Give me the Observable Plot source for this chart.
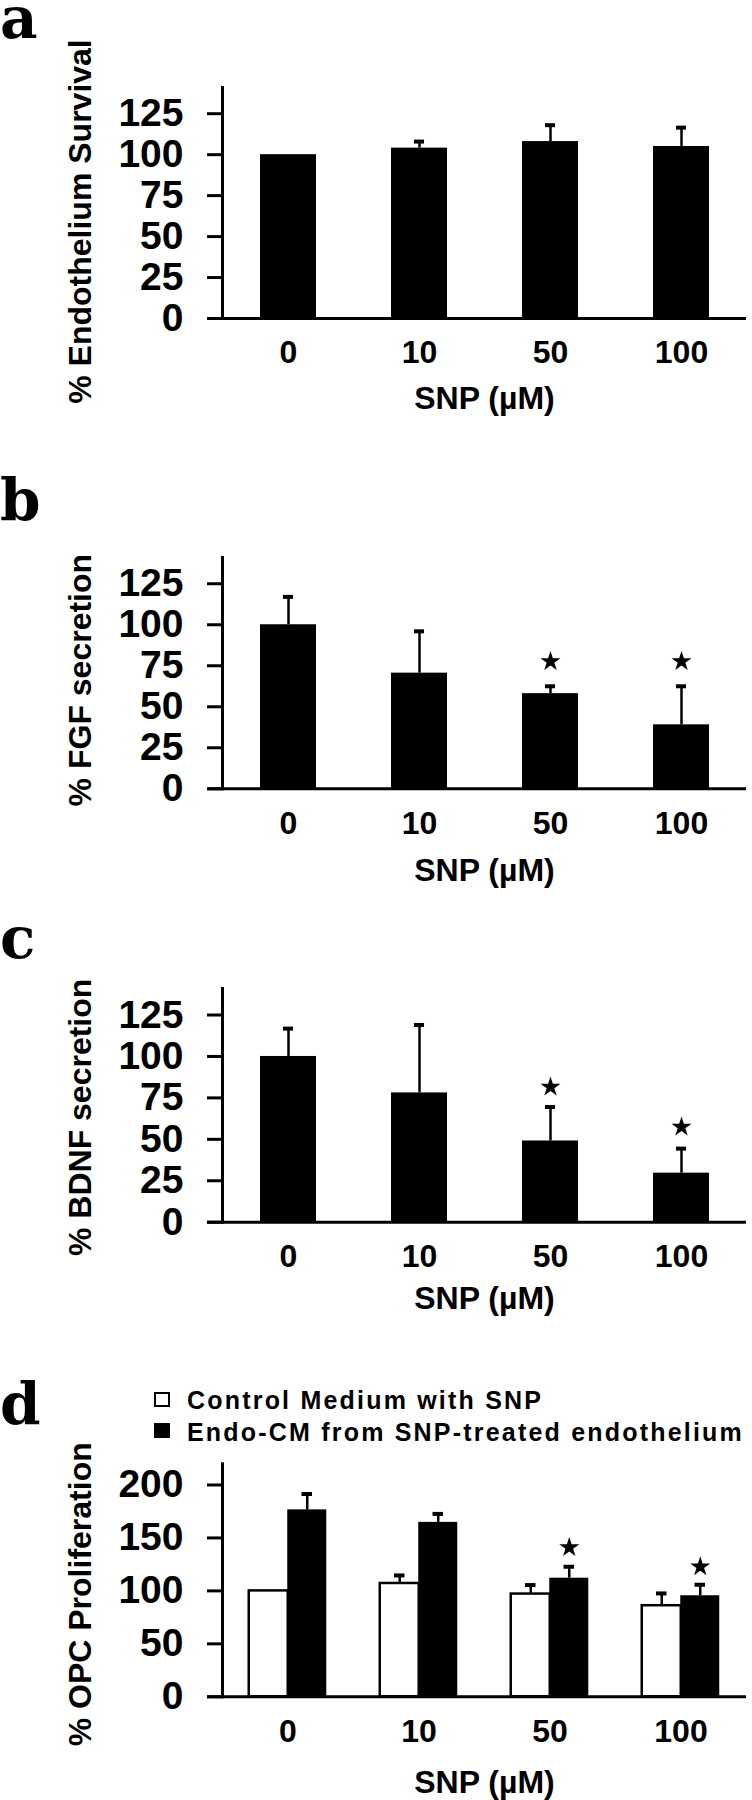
<!DOCTYPE html>
<html>
<head>
<meta charset="utf-8">
<script src="https://cdn.jsdelivr.net/npm/d3@7"></script>
<script src="https://cdn.jsdelivr.net/npm/@observablehq/plot@0.6"></script>
<style>
  html, body { margin: 0; padding: 0; background: #fff; }
  #fig { position: relative; width: 752px; height: 1800px; overflow: hidden; background: #fff;
         font-family: "Liberation Sans", Arial, sans-serif; color: #000; }
  .panel { position: absolute; left: 0; }
  .letter { position: absolute; left: 0px; font-family: "DejaVu Serif", serif; font-weight: bold;
            font-size: 58px; line-height: 34px; height: 40px; }
  .lg-text { position: absolute; left: 187px; font-weight: bold; font-size: 25px; line-height: 30px;
             letter-spacing: 2.2px; white-space: nowrap; }
  .lg-sw { position: absolute; left: 154px; width: 16px; height: 15px; box-sizing: border-box; border: 2.5px solid #000; }
</style>
</head>
<body>
<div id="fig"></div>
<script>
// ---------------- data ----------------
const doses = ["0", "10", "50", "100"];

// a: % Endothelium survival
const survival = [100, 104, 108, 105];
const survivalErr = [0, 4, 10, 11.5];

// b: % FGF secretion
const fgf = [100, 70.5, 58, 39];
const fgfErr = [17, 25.5, 4.5, 23.5];
const fgfStarDoses = ["50", "100"];
const fgfStarY = [77.6, 77.6];

// c: % BDNF secretion
const bdnf = [100, 78, 49, 29.6];
const bdnfErr = [16.8, 41, 20.5, 14.8];
const bdnfStarDoses = ["50", "100"];
const bdnfStarY = [81.6, 57.4];

// d: % OPC proliferation
const seriesNames = ["Control Medium with SNP", "Endo-CM from SNP-treated endothelium"];
const opcControl = [100, 107, 97, 86];
const opcControlErr = [0, 7.6, 8.5, 11.6];
const opcEndo = [176.5, 164.7, 112, 95.4];
const opcEndoErr = [15, 8, 10.8, 10.4];
const opcStarDoses = ["50", "100"];
const opcStarY = [141, 122.8];

const yTicks125 = [0, 25, 50, 75, 100, 125];
const yTicks200 = [0, 50, 100, 150, 200];
const xTitle = "SNP (µM)";

// ---------------- helpers ----------------
const FONT = "Liberation Sans, Arial, sans-serif";
const fig = document.getElementById("fig");

function rows(values, errs) {
  return doses.map((d, i) => ({dose: d, value: values[i], err: errs[i]}));
}
function starRows(ds, ys) {
  return ds.map((d, i) => ({dose: d, y: ys[i]}));
}

function basePlot({height, marginTop, marginBottom, yMax, yTicks, padInner, marks, yTitle, yTitleDy, xTitleDy}) {
  return Plot.plot({
    width: 752,
    height,
    marginTop,
    marginBottom,
    marginLeft: 222,
    marginRight: 6,
    style: {background: "transparent", color: "black", fontFamily: FONT, overflow: "visible"},
    x: {type: "band", domain: doses, paddingInner: padInner, paddingOuter: padInner / 2},
    y: {domain: [0, yMax]},
    marks: [
      ...marks,
      Plot.ruleY([0], {insetLeft: -15, strokeWidth: 3, stroke: "black"}),
      Plot.frame({anchor: "left", strokeWidth: 3, stroke: "black"}),
      Plot.axisY({ticks: yTicks, tickSize: 15, tickPadding: 24, fontSize: 39, fontWeight: "bold",
                  strokeWidth: 3, label: null}),
      Plot.axisX({tickSize: 0, tickPadding: 22, fontSize: 32, fontWeight: "bold", label: null}),
      Plot.text([yTitle], {text: d => d, frameAnchor: "left", textAnchor: "middle", lineAnchor: "middle",
                           rotate: -90, dx: -142, dy: yTitleDy,
                           fontSize: 32, fontWeight: "bold", fill: "black"}),
      Plot.text([xTitle], {text: d => d, frameAnchor: "bottom", textAnchor: "middle", lineAnchor: "middle",
                           dy: xTitleDy, fontSize: 32, fontWeight: "bold", fill: "black"})
    ]
  });
}

function errMarks(data, bandwidth, dx = 0) {
  const withErr = data.filter(d => d.err > 0);
  return [
    Plot.ruleX(withErr, {x: "dose", y1: "value", y2: d => d.value + d.err, strokeWidth: 2.5, stroke: "black", dx}),
    Plot.tickY(withErr, {x: "dose", y: d => d.value + d.err, strokeWidth: 4, stroke: "black",
                         insetLeft: (bandwidth - 10) / 2, insetRight: (bandwidth - 10) / 2, dx})
  ];
}

function starMark(data, dx = 0) {
  return Plot.dot(data, {x: "dose", y: "y", symbol: "star", r: 6.3, fill: "black", stroke: null, dx});
}

function place(el, top) {
  const wrap = document.createElement("div");
  wrap.className = "panel";
  wrap.style.top = top + "px";
  wrap.appendChild(el);
  fig.appendChild(wrap);
}
function letter(ch, baseline) {
  const s = document.createElement("div");
  s.className = "letter";
  s.style.top = (baseline - 37) + "px";
  s.textContent = ch;
  fig.appendChild(s);
}

const PAD = 0.573;   // single-bar panels: bar width / step
const BW = 131 * (1 - PAD);

// ---------------- panel a ----------------
const dataA = rows(survival, survivalErr);
place(basePlot({
  height: 440, marginTop: 87, marginBottom: 122, yMax: 141, yTicks: yTicks125, padInner: PAD,
  yTitle: "% Endothelium Survival", yTitleDy: 18.5, xTitleDy: 80,
  marks: [
    Plot.barY(dataA, {x: "dose", y: "value", fill: "black"}),
    ...errMarks(dataA, BW)
  ]
}), 0);
letter("a", 38);

// ---------------- panel b ----------------
const dataB = rows(fgf, fgfErr);
place(basePlot({
  height: 440, marginTop: 117, marginBottom: 91.7, yMax: 141, yTicks: yTicks125, padInner: PAD,
  yTitle: "% FGF secretion", yTitleDy: 7, xTitleDy: 82,
  marks: [
    Plot.barY(dataB, {x: "dose", y: "value", fill: "black"}),
    ...errMarks(dataB, BW),
    starMark(starRows(fgfStarDoses, fgfStarY))
  ]
}), 440);
letter("b", 520);

// ---------------- panel c ----------------
const dataC = rows(bdnf, bdnfErr);
place(basePlot({
  height: 450, marginTop: 108, marginBottom: 108.3, yMax: 141, yTicks: yTicks125, padInner: PAD,
  yTitle: "% BDNF secretion", yTitleDy: 12, xTitleDy: 77,
  marks: [
    Plot.barY(dataC, {x: "dose", y: "value", fill: "black"}),
    ...errMarks(dataC, BW),
    starMark(starRows(bdnfStarDoses, bdnfStarY))
  ]
}), 880);
letter("c", 958);

// ---------------- panel d ----------------
const PAD_D = 0.706;
const BW_D = 131 * (1 - PAD_D);
const half = BW_D / 2;
const dataCtrl = rows(opcControl, opcControlErr);
const dataEndo = rows(opcEndo, opcEndoErr);
place(basePlot({
  height: 355, marginTop: 18.3, marginBottom: 103.7, yMax: 220, yTicks: yTicks200, padInner: PAD_D,
  yTitle: "% OPC Proliferation", yTitleDy: 14, xTitleDy: 86,
  marks: [
    Plot.barY(dataCtrl, {x: "dose", y: "value", fill: "white", stroke: "black", strokeWidth: 2.5, dx: -half}),
    Plot.barY(dataEndo, {x: "dose", y: "value", fill: "black", dx: half}),
    ...errMarks(dataCtrl, BW_D, -half),
    ...errMarks(dataEndo, BW_D, half),
    starMark(starRows(opcStarDoses, opcStarY), half)
  ]
}), 1445);
letter("d", 1424);

// legend for panel d
const sw1 = document.createElement("div");
sw1.className = "lg-sw"; sw1.style.top = "1392px"; sw1.style.background = "#fff";
const sw2 = document.createElement("div");
sw2.className = "lg-sw"; sw2.style.top = "1423px"; sw2.style.background = "#000";
const t1 = document.createElement("div");
t1.className = "lg-text"; t1.style.top = "1385px"; t1.textContent = seriesNames[0];
const t2 = document.createElement("div");
t2.className = "lg-text"; t2.style.top = "1417px"; t2.textContent = seriesNames[1];
[sw1, sw2, t1, t2].forEach(e => fig.appendChild(e));
</script>
</body>
</html>
